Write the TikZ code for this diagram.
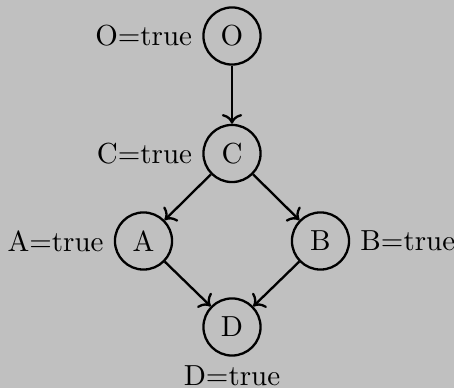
\documentclass[tikz,border=0pt]{standalone}
\usepackage{xcolor}
\usetikzlibrary{arrows.meta}

\definecolor{bggray}{RGB}{192,192,192}

\begin{document}
\begin{tikzpicture}[
            x=0.345pt, y=-0.345pt,
            state/.style={circle, draw, thick, minimum size=19.7pt, inner sep=0pt},
            arrow style/.style={->, thick}
        ]

        \fill[bggray] (0,0) rectangle (454,388);
        \useasboundingbox (0,0) rectangle (454,388);

        \node[state, label=left:{O=true}] (O) at (232,36) {O};
        \node[state, label=left:{C=true}] (C) at (232,153.5) {C};
        \node[state, label=left:{A=true}] (A) at (143.5,241) {A};
        \node[state, label=right:{B=true}] (B) at (320.5,241) {B};
        \node[state, label={[label distance=-0.6pt]below:{D=true}}] (D) at (232,327) {D};

        \draw[arrow style] (O) -- (C);
        \draw[arrow style] (C) -- (A);
        \draw[arrow style] (C) -- (B);
        \draw[arrow style] (A) -- (D);
        \draw[arrow style] (B) -- (D);
        \end{tikzpicture}
\end{document}
